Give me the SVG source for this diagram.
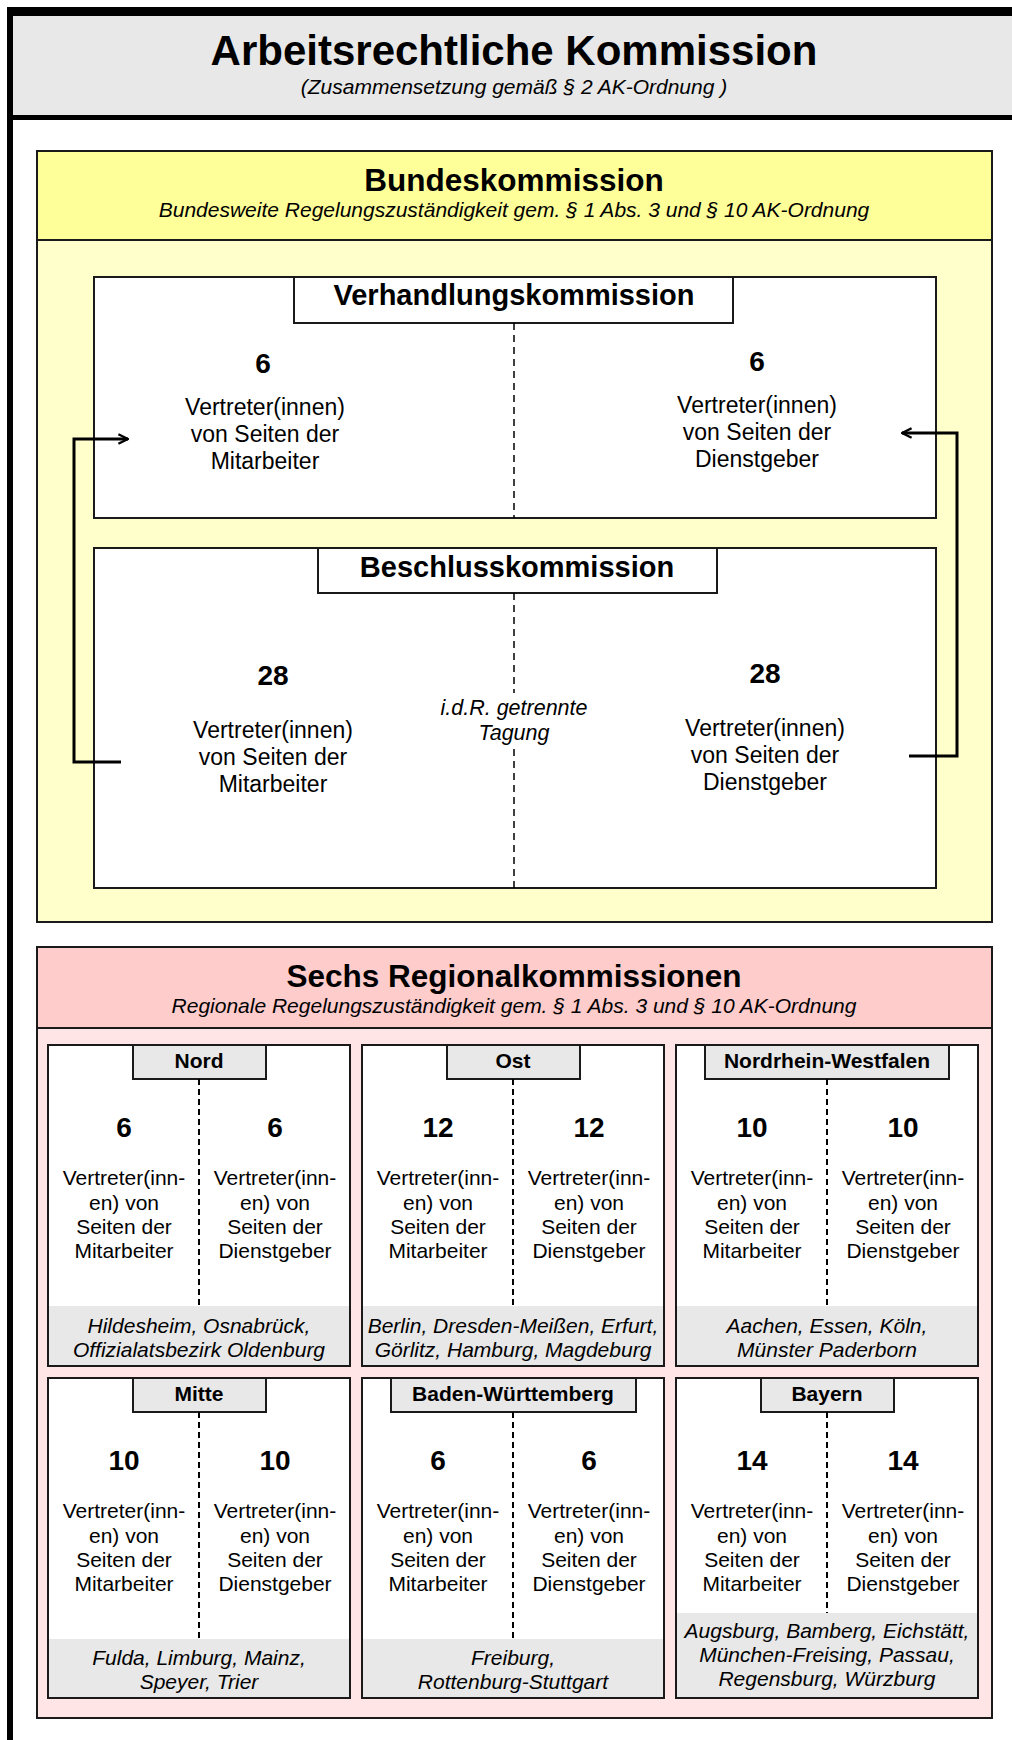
<svg xmlns="http://www.w3.org/2000/svg" width="1012" height="1740" viewBox="0 0 1012 1740">
<style>
text{font-family:"Liberation Sans",Arial,sans-serif;fill:#000;text-anchor:middle}
.h1{font-size:42px;font-weight:bold}
.h2{font-size:31.5px;font-weight:bold}
.sub{font-size:21px;font-style:italic}
.tab{font-size:29px;font-weight:bold}
.num{font-size:28px;font-weight:bold}
.body{font-size:23px}
.it{font-size:21.5px;font-style:italic}
.rtab{font-size:21px;font-weight:bold}
.rbody{font-size:21px}
.rit{font-size:21px;font-style:italic}
.box{stroke:#1a1a1a;stroke-width:2}
.wht{fill:#fff}
.gry{fill:#e8e8e8}
.dash{stroke:#000;stroke-width:2;stroke-dasharray:6 4;fill:none}
.conn{stroke:#000;stroke-width:3;fill:none}
</style>
<defs>
<marker id="arr" viewBox="0 0 10 10" refX="9" refY="5" markerWidth="12" markerHeight="12" markerUnits="userSpaceOnUse" orient="auto">
<path d="M1,1 L9,5 L1,9" fill="none" stroke="#000" stroke-width="2"/>
</marker>
</defs>
<rect width="1012" height="1740" fill="#fff"/>

<g id="frame">
<rect x="13" y="16" width="1000" height="99" fill="#e8e8e8"/>
<rect x="7" y="7" width="1006" height="9" fill="#000"/>
<rect x="7" y="115" width="1006" height="5" fill="#000"/>
<rect x="7" y="7" width="6" height="1733" fill="#000"/>
<text class="h1" x="514" y="65">Arbeitsrechtliche Kommission</text>
<text class="sub" x="514" y="94">(Zusammensetzung gemäß § 2 AK-Ordnung )</text>
</g>

<g id="bundeskommission">
<rect x="37" y="151" width="955" height="771" fill="#ffffcc" class="box"/>
<rect x="37" y="151" width="955" height="89" fill="#ffff99" class="box"/>
<text class="h2" x="514" y="191">Bundeskommission</text>
<text class="sub" x="514" y="217">Bundesweite Regelungszuständigkeit gem. § 1 Abs. 3 und § 10 AK-Ordnung</text>
</g>

<g id="verhandlungskommission">
<rect x="94" y="277" width="842" height="241" class="box wht"/>
<rect x="294" y="277" width="439" height="46" class="box wht"/>
<text class="tab" x="514" y="305">Verhandlungskommission</text>
<line x1="514" y1="323" x2="514" y2="518" class="dash" style="stroke-width:1.5;stroke-dasharray:7 5"/>
<text class="num" x="263" y="373">6</text>
<text class="body" x="265" y="415">Vertreter(innen)</text>
<text class="body" x="265" y="442">von Seiten der</text>
<text class="body" x="265" y="469">Mitarbeiter</text>
<text class="num" x="757" y="371">6</text>
<text class="body" x="757" y="413">Vertreter(innen)</text>
<text class="body" x="757" y="440">von Seiten der</text>
<text class="body" x="757" y="467">Dienstgeber</text>
</g>

<g id="beschlusskommission">
<rect x="94" y="548" width="842" height="340" class="box wht"/>
<rect x="318" y="548" width="399" height="45" class="box wht"/>
<text class="tab" x="517" y="577">Beschlusskommission</text>
<line x1="514" y1="593" x2="514" y2="888" class="dash" style="stroke-width:1.5;stroke-dasharray:7 5"/>
<rect x="436" y="693" width="156" height="56" fill="#fff"/>
<text class="it" x="514" y="715">i.d.R. getrennte</text>
<text class="it" x="514" y="740">Tagung</text>
<text class="num" x="273" y="685">28</text>
<text class="body" x="273" y="738">Vertreter(innen)</text>
<text class="body" x="273" y="765">von Seiten der</text>
<text class="body" x="273" y="792">Mitarbeiter</text>
<text class="num" x="765" y="683">28</text>
<text class="body" x="765" y="736">Vertreter(innen)</text>
<text class="body" x="765" y="763">von Seiten der</text>
<text class="body" x="765" y="790">Dienstgeber</text>
</g>

<g id="connectors">
<path class="conn" d="M121,762 H74 V439 H128" marker-end="url(#arr)"/>
<path class="conn" d="M909,756 H957 V433 H902" marker-end="url(#arr)"/>
</g>

<g id="regionalkommissionen">
<rect x="37" y="947" width="955" height="771" fill="#ffe5e5" class="box"/>
<rect x="37" y="947" width="955" height="81" fill="#ffcccc" class="box"/>
<text class="h2" x="514" y="987">Sechs Regionalkommissionen</text>
<text class="sub" x="514" y="1013">Regionale Regelungszuständigkeit gem. § 1 Abs. 3 und § 10 AK-Ordnung</text>
</g>

<g id="nord">
<rect x="48" y="1045" width="302" height="321" class="wht"/>
<rect x="48" y="1306" width="302" height="60" class="gry"/>
<rect x="48" y="1045" width="302" height="321" class="box" fill="none"/>
<rect x="133" y="1045" width="133" height="34" class="box gry"/>
<text class="rtab" x="199" y="1068">Nord</text>
<line x1="199" y1="1079" x2="199" y2="1306" class="dash"/>
<text class="num" x="124" y="1137">6</text>
<text class="num" x="275" y="1137">6</text>
<text class="rbody" x="124" y="1185">Vertreter(inn-</text>
<text class="rbody" x="124" y="1210">en) von</text>
<text class="rbody" x="124" y="1234">Seiten der</text>
<text class="rbody" x="124" y="1258">Mitarbeiter</text>
<text class="rbody" x="275" y="1185">Vertreter(inn-</text>
<text class="rbody" x="275" y="1210">en) von</text>
<text class="rbody" x="275" y="1234">Seiten der</text>
<text class="rbody" x="275" y="1258">Dienstgeber</text>
<text class="rit" x="199" y="1333">Hildesheim, Osnabrück,</text>
<text class="rit" x="199" y="1357">Offizialatsbezirk Oldenburg</text>
</g>

<g id="ost">
<rect x="362" y="1045" width="302" height="321" class="wht"/>
<rect x="362" y="1306" width="302" height="60" class="gry"/>
<rect x="362" y="1045" width="302" height="321" class="box" fill="none"/>
<rect x="447" y="1045" width="133" height="34" class="box gry"/>
<text class="rtab" x="513" y="1068">Ost</text>
<line x1="513" y1="1079" x2="513" y2="1306" class="dash"/>
<text class="num" x="438" y="1137">12</text>
<text class="num" x="589" y="1137">12</text>
<text class="rbody" x="438" y="1185">Vertreter(inn-</text>
<text class="rbody" x="438" y="1210">en) von</text>
<text class="rbody" x="438" y="1234">Seiten der</text>
<text class="rbody" x="438" y="1258">Mitarbeiter</text>
<text class="rbody" x="589" y="1185">Vertreter(inn-</text>
<text class="rbody" x="589" y="1210">en) von</text>
<text class="rbody" x="589" y="1234">Seiten der</text>
<text class="rbody" x="589" y="1258">Dienstgeber</text>
<text class="rit" x="513" y="1333">Berlin, Dresden-Meißen, Erfurt,</text>
<text class="rit" x="513" y="1357">Görlitz, Hamburg, Magdeburg</text>
</g>

<g id="nrw">
<rect x="676" y="1045" width="302" height="321" class="wht"/>
<rect x="676" y="1306" width="302" height="60" class="gry"/>
<rect x="676" y="1045" width="302" height="321" class="box" fill="none"/>
<rect x="705" y="1045" width="244" height="34" class="box gry"/>
<text class="rtab" x="827" y="1068">Nordrhein-Westfalen</text>
<line x1="827" y1="1079" x2="827" y2="1306" class="dash"/>
<text class="num" x="752" y="1137">10</text>
<text class="num" x="903" y="1137">10</text>
<text class="rbody" x="752" y="1185">Vertreter(inn-</text>
<text class="rbody" x="752" y="1210">en) von</text>
<text class="rbody" x="752" y="1234">Seiten der</text>
<text class="rbody" x="752" y="1258">Mitarbeiter</text>
<text class="rbody" x="903" y="1185">Vertreter(inn-</text>
<text class="rbody" x="903" y="1210">en) von</text>
<text class="rbody" x="903" y="1234">Seiten der</text>
<text class="rbody" x="903" y="1258">Dienstgeber</text>
<text class="rit" x="827" y="1333">Aachen, Essen, Köln,</text>
<text class="rit" x="827" y="1357">Münster Paderborn</text>
</g>

<g id="mitte">
<rect x="48" y="1378" width="302" height="320" class="wht"/>
<rect x="48" y="1639" width="302" height="59" class="gry"/>
<rect x="48" y="1378" width="302" height="320" class="box" fill="none"/>
<rect x="133" y="1378" width="133" height="34" class="box gry"/>
<text class="rtab" x="199" y="1401">Mitte</text>
<line x1="199" y1="1412" x2="199" y2="1639" class="dash"/>
<text class="num" x="124" y="1470">10</text>
<text class="num" x="275" y="1470">10</text>
<text class="rbody" x="124" y="1518">Vertreter(inn-</text>
<text class="rbody" x="124" y="1543">en) von</text>
<text class="rbody" x="124" y="1567">Seiten der</text>
<text class="rbody" x="124" y="1591">Mitarbeiter</text>
<text class="rbody" x="275" y="1518">Vertreter(inn-</text>
<text class="rbody" x="275" y="1543">en) von</text>
<text class="rbody" x="275" y="1567">Seiten der</text>
<text class="rbody" x="275" y="1591">Dienstgeber</text>
<text class="rit" x="199" y="1665">Fulda, Limburg, Mainz,</text>
<text class="rit" x="199" y="1689">Speyer, Trier</text>
</g>

<g id="baden-wuerttemberg">
<rect x="362" y="1378" width="302" height="320" class="wht"/>
<rect x="362" y="1639" width="302" height="59" class="gry"/>
<rect x="362" y="1378" width="302" height="320" class="box" fill="none"/>
<rect x="391" y="1378" width="245" height="34" class="box gry"/>
<text class="rtab" x="513" y="1401">Baden-Württemberg</text>
<line x1="513" y1="1412" x2="513" y2="1639" class="dash"/>
<text class="num" x="438" y="1470">6</text>
<text class="num" x="589" y="1470">6</text>
<text class="rbody" x="438" y="1518">Vertreter(inn-</text>
<text class="rbody" x="438" y="1543">en) von</text>
<text class="rbody" x="438" y="1567">Seiten der</text>
<text class="rbody" x="438" y="1591">Mitarbeiter</text>
<text class="rbody" x="589" y="1518">Vertreter(inn-</text>
<text class="rbody" x="589" y="1543">en) von</text>
<text class="rbody" x="589" y="1567">Seiten der</text>
<text class="rbody" x="589" y="1591">Dienstgeber</text>
<text class="rit" x="513" y="1665">Freiburg,</text>
<text class="rit" x="513" y="1689">Rottenburg-Stuttgart</text>
</g>

<g id="bayern">
<rect x="676" y="1378" width="302" height="320" class="wht"/>
<rect x="676" y="1613" width="302" height="85" class="gry"/>
<rect x="676" y="1378" width="302" height="320" class="box" fill="none"/>
<rect x="761" y="1378" width="133" height="34" class="box gry"/>
<text class="rtab" x="827" y="1401">Bayern</text>
<line x1="827" y1="1412" x2="827" y2="1613" class="dash"/>
<text class="num" x="752" y="1470">14</text>
<text class="num" x="903" y="1470">14</text>
<text class="rbody" x="752" y="1518">Vertreter(inn-</text>
<text class="rbody" x="752" y="1543">en) von</text>
<text class="rbody" x="752" y="1567">Seiten der</text>
<text class="rbody" x="752" y="1591">Mitarbeiter</text>
<text class="rbody" x="903" y="1518">Vertreter(inn-</text>
<text class="rbody" x="903" y="1543">en) von</text>
<text class="rbody" x="903" y="1567">Seiten der</text>
<text class="rbody" x="903" y="1591">Dienstgeber</text>
<text class="rit" x="827" y="1638">Augsburg, Bamberg, Eichstätt,</text>
<text class="rit" x="827" y="1662">München-Freising, Passau,</text>
<text class="rit" x="827" y="1686">Regensburg, Würzburg</text>
</g>
</svg>
